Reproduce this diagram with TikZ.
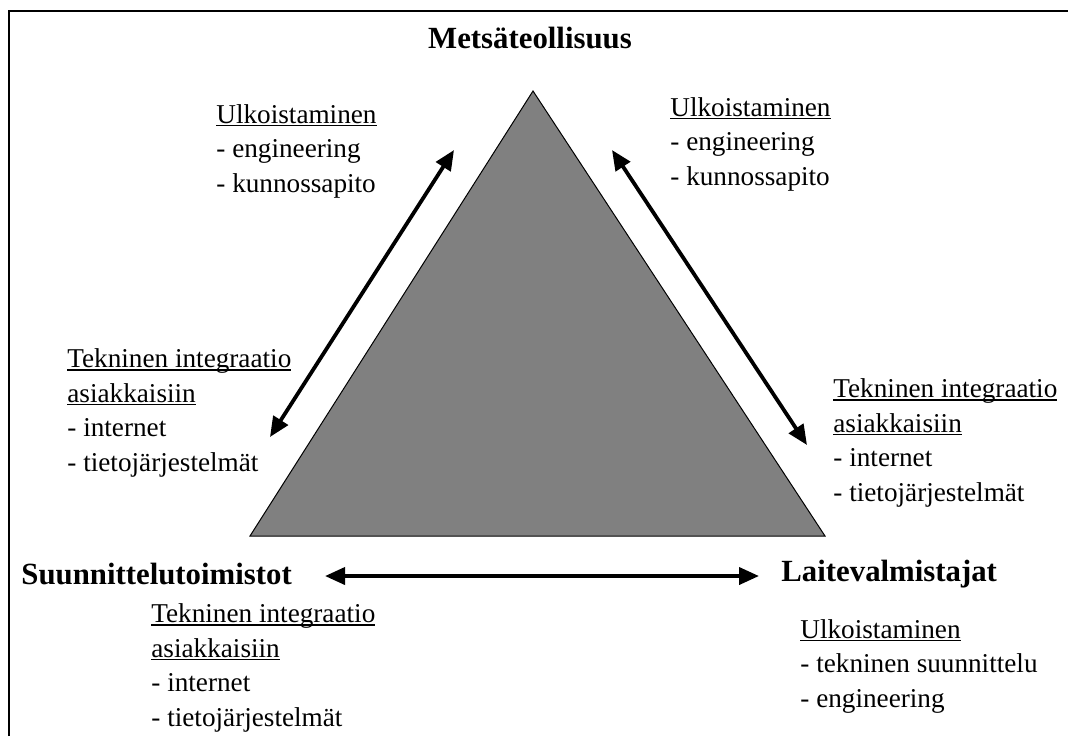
\documentclass[tikz,border=0pt]{standalone}
\usepackage{fontspec}
\setmainfont{Liberation Serif}
\usepackage{tikz}
\usetikzlibrary{arrows.meta}
\newcommand{\ulhead}[1]{\setbox0\hbox{#1}\rlap{\rule[-0.11em]{\wd0}{0.05em}}\box0}
\tikzset{lbl/.style={anchor=base west,align=left,inner sep=0pt,font=\fontsize{13.6}{17.2}\selectfont},
    ttl/.style={inner sep=0pt,font=\fontsize{15.4}{18}\selectfont\bfseries},
    dbl/.style={<->,line width=1.9pt}}

\begin{document}
\begin{tikzpicture}[x=0.5pt,y=-0.5pt,>={Triangle[length=10pt,width=8.5pt]}]
    \useasboundingbox (0,0) rectangle (1068,736);
    \draw [line width=1pt] (9,736) -- (9,11) -- (1068,11);

    \coordinate (top) at (533,91);
    \coordinate (lft) at (250,536);
    \coordinate (rgt) at (825,536);
    \filldraw [fill=gray,draw=black,line width=0.5pt] (top) -- (lft) -- (rgt) -- cycle;

    \node[ttl,anchor=base] (mets)at (530,48) {Metsäteollisuus};
    \node[ttl,anchor=base west] (suun)at (21,584) {Suunnittelutoimistot};
    \node[ttl,anchor=base west] (lait)at (781,581) {Laitevalmistajat};

    % base of the last line
    \node[lbl] (tl)at (216,192) {\ulhead{Ulkoistaminen}\\- engineering\\- kunnossapito};
    \node[lbl] (tr)at (670,185) {\ulhead{Ulkoistaminen}\\- engineering\\- kunnossapito};
    \node[lbl] (lm)at (67,471) {\ulhead{Tekninen integraatio}\\\ulhead{asiakkaisiin}\\- internet\\- tietojärjestelmät};
    \node[lbl] (rm)at (833,501) {\ulhead{Tekninen integraatio}\\\ulhead{asiakkaisiin}\\- internet\\- tietojärjestelmät};
    \node[lbl] (bl)at (151,726) {\ulhead{Tekninen integraatio}\\\ulhead{asiakkaisiin}\\- internet\\- tietojärjestelmät};
    \node[lbl] (br)at (800,707) {\ulhead{Ulkoistaminen}\\- tekninen suunnittelu\\- engineering};

    \coordinate (p1) at (270,437);
    \coordinate (p2) at (454,150);
    \coordinate (p3) at (612,150);
    \coordinate (p4) at (807,445);
    \coordinate (p5) at (325,576);
    \coordinate (p6) at (759,576);

    \draw [dbl] (p1) to [] (p2);
    \draw [dbl] (p3) to [] (p4);
    \draw [dbl] (p5) to [] (p6);
\end{tikzpicture}
\end{document}
